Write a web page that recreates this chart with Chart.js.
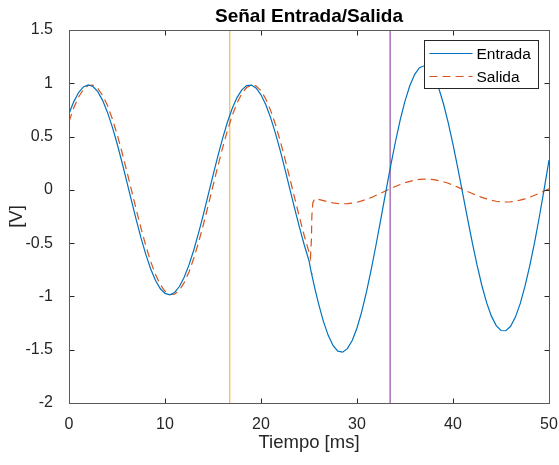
<!DOCTYPE html>
<html>
<head>
<meta charset="utf-8">
<script src="https://cdn.jsdelivr.net/npm/chart.js@4.4.1/dist/chart.umd.min.js"></script>
<style>
  html, body { margin: 0; padding: 0; background: #fff; }
  #wrap { width: 559px; height: 465px; }
</style>
</head>
<body>
<div id="wrap"><canvas id="grafica" width="559" height="465"></canvas></div>
<script>
// tiempo en ms (muestras)
const tiempo = [
  0, 0.5, 1, 1.5, 2, 2.5, 3, 3.5, 4, 4.5,
  5, 5.5, 6, 6.5, 7, 7.5, 8, 8.5, 9, 9.5,
  10, 10.5, 11, 11.5, 12, 12.5, 13, 13.5, 14, 14.5,
  15, 15.5, 16, 16.5, 17, 17.5, 18, 18.5, 19, 19.5,
  20, 20.5, 21, 21.5, 22, 22.5, 23, 23.5, 24, 24.5,
  25, 25.15, 25.25, 25.3, 25.4, 25.6,
  26, 26.5, 27, 27.5, 28, 28.5, 29, 29.5, 30, 30.5,
  31, 31.5, 32, 32.5, 33, 33.5, 34, 34.5, 35, 35.5,
  36, 36.5, 37, 37.5, 38, 38.5, 39, 39.5, 40, 40.5,
  41, 41.5, 42, 42.5, 43, 43.5, 44, 44.5, 45, 45.5,
  46, 46.5, 47, 47.5, 48, 48.5, 49, 49.5, 50
];

const entrada = [
  0.715, 0.828, 0.913, 0.966, 0.985, 0.970, 0.921, 0.840, 0.729, 0.594,
  0.437, 0.266, 0.085, -0.099, -0.280, -0.451, -0.606, -0.740, -0.848, -0.926,
  -0.972, -0.985, -0.963, -0.907, -0.820, -0.704, -0.564, -0.404, -0.230, -0.048,
  0.136, 0.315, 0.483, 0.634, 0.763, 0.866, 0.938, 0.978, 0.983, 0.954,
  0.892, 0.799, 0.678, 0.533, 0.370, 0.193, 0.010, -0.173, -0.350, -0.515,
  -0.665, -0.737, -0.780, -0.800, -0.841, -0.921,
  -1.070, -1.234, -1.365, -1.460, -1.513, -1.523, -1.490, -1.413, -1.296, -1.140,
  -0.953, -0.740, -0.508, -0.265, -0.019, 0.222, 0.449, 0.656, 0.833, 0.977,
  1.082, 1.146, 1.164, 1.138, 1.069, 0.958, 0.810, 0.631, 0.427, 0.204,
  -0.028, -0.263, -0.490, -0.704, -0.895, -1.058, -1.185, -1.274, -1.320, -1.322,
  -1.280, -1.194, -1.068, -0.904, -0.710, -0.493, -0.250, 0.010, 0.280
];

const salida = [
  0.642, 0.770, 0.871, 0.941, 0.979, 0.982, 0.951, 0.887, 0.793, 0.670,
  0.524, 0.360, 0.183, 0.000, -0.183, -0.360, -0.524, -0.670, -0.793, -0.888,
  -0.952, -0.982, -0.979, -0.941, -0.871, -0.770, -0.642, -0.492, -0.325, -0.146,
  0.037, 0.220, 0.394, 0.555, 0.697, 0.814, 0.903, 0.960, 0.984, 0.974,
  0.930, 0.853, 0.746, 0.614, 0.460, 0.290, 0.110, -0.074, -0.255, -0.428,
  -0.585, -0.640, -0.470, -0.240, -0.120, -0.084,
  -0.090, -0.101, -0.113, -0.122, -0.128, -0.131, -0.129, -0.124, -0.116, -0.103,
  -0.088, -0.071, -0.051, -0.031, -0.009, 0.012, 0.032, 0.050, 0.067, 0.080,
  0.091, 0.098, 0.101, 0.100, 0.096, 0.087, 0.076, 0.062, 0.045, 0.026,
  0.006, -0.014, -0.034, -0.053, -0.070, -0.085, -0.098, -0.107, -0.112, -0.114,
  -0.112, -0.106, -0.096, -0.084, -0.068, -0.051, -0.031, -0.011, 0.010
];

// lineas verticales (ms)
const marcas = [16.75, 33.45];
const ticksX = [0, 10, 20, 30, 40, 50];
const ticksY = [-2, -1.5, -1, -0.5, 0, 0.5, 1, 1.5];

const AZUL = "#0072BD", NARANJA = "#D95319", AMARILLO = "#EDB120", MORADO = "#7E2F8E";
const EJE = "#262626";
const FUENTE = '"Liberation Sans", Arial, Helvetica, sans-serif';

Chart.defaults.font.family = FUENTE;
Chart.defaults.color = EJE;

// caja de ejes con marcas hacia dentro, titulo y leyenda estilo MATLAB
const estiloMatlab = {
  id: "estiloMatlab",
  afterDraw(chart) {
    const { ctx, chartArea: a, scales: { x, y } } = chart;
    const L = Math.round(a.left) + 0.5, R = Math.round(a.right) + 0.5;
    const T = Math.round(a.top) + 0.5, B = Math.round(a.bottom) + 0.5;
    ctx.save();
    ctx.strokeStyle = EJE;
    ctx.lineWidth = 1;
    ctx.beginPath();
    ticksX.forEach(v => {
      const px = Math.round(x.getPixelForValue(v)) + 0.5;
      ctx.moveTo(px, B); ctx.lineTo(px, B - 5);
      ctx.moveTo(px, T); ctx.lineTo(px, T + 5);
    });
    ticksY.forEach(v => {
      const py = Math.round(y.getPixelForValue(v)) + 0.5;
      ctx.moveTo(L, py); ctx.lineTo(L + 5, py);
      ctx.moveTo(R, py); ctx.lineTo(R - 5, py);
    });
    ctx.stroke();
    ctx.strokeStyle = "#5a5a5a";
    ctx.strokeRect(L, T, R - L, B - T);

    // titulo
    ctx.fillStyle = "#000";
    ctx.font = "bold 19px " + FUENTE;
    ctx.textAlign = "center";
    ctx.textBaseline = "alphabetic";
    ctx.fillText("Señal Entrada/Salida", (a.left + a.right) / 2, 22);

    // leyenda
    const lx = 424.5, ly = 40.5, lw = 114, lh = 48;
    ctx.fillStyle = "#fff";
    ctx.fillRect(lx, ly, lw, lh);
    ctx.strokeStyle = EJE;
    ctx.strokeRect(lx, ly, lw, lh);
    const filas = [
      { texto: "Entrada", color: AZUL, dash: [] },
      { texto: "Salida", color: NARANJA, dash: [8, 5] }
    ];
    filas.forEach((f, i) => {
      const yy = ly + 13 + i * 23;
      ctx.strokeStyle = f.color;
      ctx.lineWidth = 1.2;
      ctx.setLineDash(f.dash);
      ctx.beginPath();
      ctx.moveTo(lx + 5, yy); ctx.lineTo(lx + 48, yy);
      ctx.stroke();
      ctx.setLineDash([]);
      ctx.fillStyle = "#000";
      ctx.font = "15.5px " + FUENTE;
      ctx.textAlign = "left";
      ctx.textBaseline = "middle";
      ctx.fillText(f.texto, lx + 52, yy + 1);
    });
    ctx.restore();
  }
};

const puntos = serie => tiempo.map((t, i) => ({ x: t, y: serie[i] }));

new Chart(document.getElementById("grafica"), {
  type: "line",
  data: {
    datasets: [
      { label: "Entrada", data: puntos(entrada), borderColor: AZUL, borderWidth: 1.2, pointRadius: 0, tension: 0 },
      { label: "Salida", data: puntos(salida), borderColor: NARANJA, borderWidth: 1.2, borderDash: [8, 5], pointRadius: 0, tension: 0 },
      { label: "t1", data: [{ x: marcas[0], y: -2 }, { x: marcas[0], y: 1.5 }], borderColor: AMARILLO, borderWidth: 1, pointRadius: 0 },
      { label: "t2", data: [{ x: marcas[1], y: -2 }, { x: marcas[1], y: 1.5 }], borderColor: MORADO, borderWidth: 1, pointRadius: 0 }
    ]
  },
  options: {
    responsive: false,
    devicePixelRatio: 1,
    animation: false,
    layout: { padding: { left: 0, right: 10, top: 30, bottom: 0 } },
    plugins: { legend: { display: false }, tooltip: { enabled: false }, title: { display: false } },
    scales: {
      x: {
        type: "linear", min: 0, max: 50,
        afterBuildTicks: s => { s.ticks = ticksX.map(v => ({ value: v })); },
        afterFit: s => { s.height = 62; s.paddingLeft = 0; s.paddingRight = 0; },
        ticks: { font: { size: 16 }, color: EJE, padding: 4, maxRotation: 0 },
        grid: { display: false },
        border: { display: false },
        title: { display: true, text: "Tiempo [ms]", font: { size: 18.5 }, color: EJE, padding: { top: 0, bottom: 11 } }
      },
      y: {
        type: "linear", min: -2, max: 1.5,
        afterBuildTicks: s => { s.ticks = ticksY.map(v => ({ value: v })); },
        afterFit: s => { s.width = 69; s.paddingTop = 0; s.paddingBottom = 0; },
        ticks: { font: { size: 16 }, color: EJE, padding: 8, callback: v => String(v) },
        grid: { display: false },
        border: { display: false },
        title: { display: true, text: "[V]", font: { size: 18.5 }, color: EJE, padding: { top: 6, bottom: 0 } }
      }
    }
  },
  plugins: [estiloMatlab]
});
</script>
</body>
</html>
